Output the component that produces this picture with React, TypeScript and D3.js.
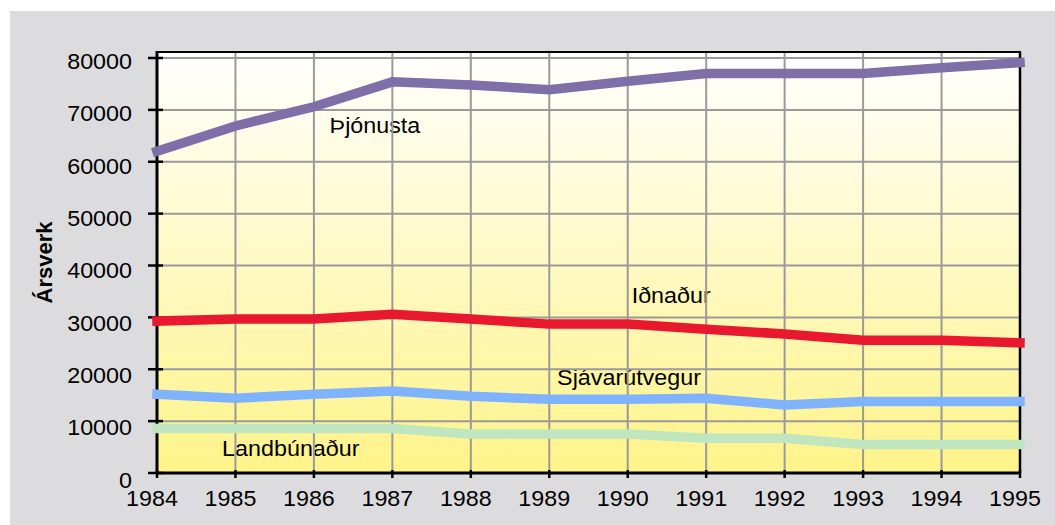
import React from "react";
import * as d3 from "d3";

const years = [1984, 1985, 1986, 1987, 1988, 1989, 1990, 1991, 1992, 1993, 1994, 1995];
const yTicks = [0, 10000, 20000, 30000, 40000, 50000, 60000, 70000, 80000];

const thjonusta = [62000, 66900, 70600, 75400, 74800, 73900, 75500, 77000, 77000, 77000, 78100, 79100];
const idnadur = [29300, 29700, 29700, 30600, 29700, 28700, 28700, 27700, 26800, 25600, 25600, 25100];
const sjavarutvegur = [15200, 14400, 15200, 15800, 14800, 14200, 14200, 14400, 13100, 13800, 13800, 13800];
const landbunadur = [8600, 8600, 8600, 8600, 7500, 7500, 7500, 6700, 6700, 5500, 5500, 5500];

const seriesNames = ["Þjónusta", "Iðnaður", "Sjávarútvegur", "Landbúnaður"];
const seriesColors = ["#7e6fa8", "#e8192f", "#80b3ff", "#c0e6c0"];
const seriesData = [thjonusta, idnadur, sjavarutvegur, landbunadur];
// label anchor: [year position, value]
const labelAt: [number, number][] = [
  [1986.2, 65600],
  [1990.05, 32700],
  [1989.1, 17000],
  [1984.83, 3200],
];

export default function App() {
  const W = 1055, H = 525;
  const left = 157, right = 1020, top = 52, bottom = 473;
  const x = d3.scaleLinear().domain([1984, 1995]).range([left, right]);
  const y = d3.scaleLinear().domain([0, 80000]).range([bottom, 58]);
  const line = d3
    .line<number>()
    .x((_, i) => x(years[i]))
    .y((d) => y(d));
  const font = "'Liberation Sans', Arial, sans-serif";
  const sx = 1.06;
  const fs = 22;

  return (
    <svg
      width={W}
      height={H}
      style={{ position: "absolute", left: 0, top: 0, display: "block" }}
      fontFamily={font}
    >
      <defs>
        <linearGradient id="bgGrad" x1="0" y1="0" x2="0" y2="1">
          <stop offset="0" stopColor="#fffffe" />
          <stop offset="1" stopColor="#fff389" />
        </linearGradient>
      </defs>
      <rect x={0} y={0} width={W} height={H} fill="#ffffff" />
      <rect x={10} y={11} width={W - 10} height={H - 11} fill="#dcdcde" />
      <rect x={left} y={top} width={right - left} height={bottom - top} fill="url(#bgGrad)" />

      {seriesNames.map((n, i) => (
        <text
          key={n}
          transform={`translate(${x(labelAt[i][0])},${y(labelAt[i][1])}) scale(${sx},1)`}
          fontSize={fs}
          fill="#000"
        >
          {n}
        </text>
      ))}

      {yTicks.slice(1).map((t) => (
        <line key={"h" + t} x1={left} x2={right} y1={y(t)} y2={y(t)} stroke="#9a9a9a" strokeWidth={2} />
      ))}
      {years.slice(1, -1).map((yr) => (
        <line key={"v" + yr} x1={x(yr)} x2={x(yr)} y1={top} y2={bottom} stroke="#9a9a9a" strokeWidth={2} />
      ))}

      {/* frame */}
      <line x1={left} x2={right + 1} y1={top} y2={top} stroke="#000" strokeWidth={2} />
      <line x1={right} x2={right} y1={top} y2={bottom} stroke="#000" strokeWidth={2.5} />
      <line x1={left} x2={left} y1={top - 1} y2={bottom + 1} stroke="#000" strokeWidth={3} />
      <line x1={left - 1} x2={right + 1} y1={bottom} y2={bottom} stroke="#000" strokeWidth={3} />

      {/* ticks */}
      {yTicks.map((t) => (
        <line key={"yt" + t} x1={left - 9} x2={left + 6} y1={y(t)} y2={y(t)} stroke="#000" strokeWidth={2.5} />
      ))}
      {years.map((yr) => (
        <line key={"xt" + yr} x1={x(yr)} x2={x(yr)} y1={bottom - 3} y2={bottom + 5} stroke="#000" strokeWidth={2.5} />
      ))}

      {/* series */}
      {seriesData.map((d, i) => (
        <path
          key={seriesNames[i]}
          d={line(d) || ""}
          fill="none"
          stroke={seriesColors[i]}
          strokeWidth={9.5}
          strokeLinecap="square"
          strokeLinejoin="miter"
        />
      ))}

      {/* y tick labels */}
      {yTicks.map((t) => (
        <text
          key={"yl" + t}
          transform={`translate(${left - 25},${y(t) + 5 + (80000 - t) / 80000 * 4}) scale(${sx},1)`}
          textAnchor="end"
          dominantBaseline="middle"
          fontSize={fs}
          fill="#000"
        >
          {t}
        </text>
      ))}
      {/* x tick labels */}
      {years.map((yr) => (
        <text
          key={"xl" + yr}
          transform={`translate(${x(yr) - 5},${bottom + 33}) scale(${sx},1)`}
          textAnchor="middle"
          fontSize={fs}
          fill="#000"
        >
          {yr}
        </text>
      ))}

      <text
        transform={`translate(52,${(top + bottom) / 2}) rotate(-90)`}
        textAnchor="middle"
        fontSize={22}
        fontWeight="bold"
        fill="#000"
      >
        Ársverk
      </text>
    </svg>
  );
}
